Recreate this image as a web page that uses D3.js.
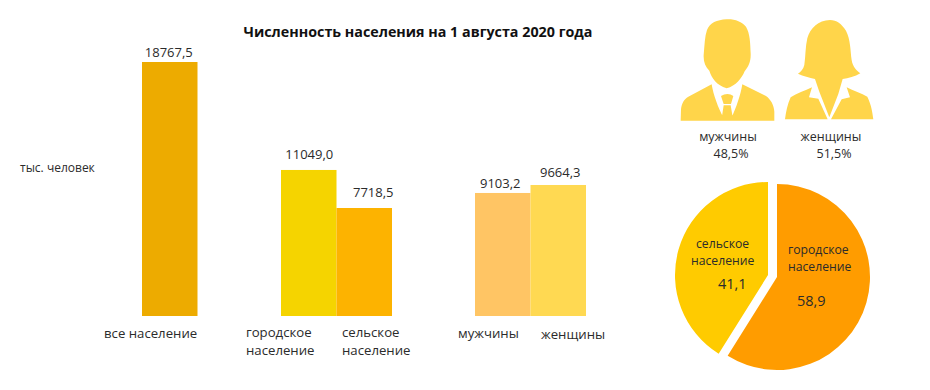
<!DOCTYPE html>
<html>
<head>
<meta charset="utf-8">
<script src="https://cdn.jsdelivr.net/npm/d3@7"></script>
<style>
  html, body { margin: 0; padding: 0; background: #fff; }
  text { font-family: "Open Sans", "Noto Sans", sans-serif; fill: #2b2b2b; }
</style>
</head>
<body>
<div id="content"></div>
<script>
const svg_width = 930;
const svg_height = 390;

// bar chart data
const barCategories = ["все население", "городское население", "сельское население", "мужчины", "женщины"];
// the numbers printed above the bars
const barLabels = [18767.5, 11049.0, 7718.5, 9103.2, 9664.3];
// the heights as the picture draws them: the urban and rural bars are not
// quite to scale with their printed numbers, so these are read off the bars
const barHeights = [18767.5, 10790, 7980, 9090, 9680];
const barColors = ["#edab00", "#f5d400", "#fdb300", "#ffc564", "#ffd952"];

// pie data
const pieNames = ["городское население", "сельское население"];
const pieValues = [58.9, 41.1];
const pieColors = ["#ff9c00", "#ffcb00"];

// gender shares
const genderNames = ["мужчины", "женщины"];
const genderShares = ["48,5%", "51,5%"];

const fmt = v => v.toFixed(1).replace(".", ",");

var svg = d3.select("#content")
    .append("svg")
    .attr("width", svg_width)
    .attr("height", svg_height)
    .style("display", "block");

// title
svg.append("text")
    .attr("x", 418)
    .attr("y", 37)
    .attr("text-anchor", "middle")
    .style("font-size", "14.3px")
    .style("font-weight", "bold")
    .style("fill", "#111")
    .text("Численность населения на 1 августа 2020 года");

// y unit label
svg.append("text")
    .attr("x", 20)
    .attr("y", 172)
    .style("font-size", "12px")
    .text("тыс. человек");

// bars, the groups are not evenly spaced so the range is listed by hand
var xScale = d3.scaleOrdinal()
    .domain(barCategories)
    .range([142, 281, 336.5, 475, 530.5]);
const barWidth = 55.5;

var yScale = d3.scaleLinear()
    .domain([0, 18767.5])
    .range([316, 62]);

svg.selectAll(".bar")
    .data(barCategories)
    .join("rect")
    .attr("class", "bar")
    .attr("x", d => xScale(d))
    .attr("width", barWidth)
    .attr("y", (d, i) => yScale(barHeights[i]))
    .attr("height", (d, i) => yScale(0) - yScale(barHeights[i]))
    .attr("fill", (d, i) => barColors[i]);

// value labels are nudged by hand, each sits a bit differently over its bar
const valueDx = [-1, 0.5, 9, -2.5, 2];
const valueDy = [5, 11, 11, 5, 8];

svg.selectAll(".bar-value")
    .data(barCategories)
    .join("text")
    .attr("class", "bar-value")
    .attr("x", (d, i) => xScale(d) + barWidth / 2 + valueDx[i])
    .attr("y", (d, i) => yScale(barHeights[i]) - valueDy[i])
    .attr("text-anchor", "middle")
    .style("font-size", "13px")
    .text((d, i) => fmt(barLabels[i]));

// category labels under the bars
const labelLines = [["все население"], ["городское", "население"], ["сельское", "население"], ["мужчины"], ["женщины"]];
const labelX = [104, 246, 342, 458, 541];
const labelY = [338, 337, 337, 338, 339];

labelLines.forEach(function(lines, i) {
    var t = svg.append("text")
        .attr("class", "cat-label")
        .attr("x", labelX[i])
        .attr("y", labelY[i])
        .style("font-size", "13.2px");
    lines.forEach(function(line, k) {
        t.append("tspan")
            .attr("x", labelX[i])
            .attr("dy", k ? 17.5 : 0)
            .text(line);
    });
});

// people icons, outlines traced at 3x and scaled down
var icons = svg.append("g")
    .attr("transform", "translate(660, 10) scale(0.3333)")
    .attr("fill", "#ffd54a");

const manPath = "M200,28 C170,30 150,38 141,60 C134,80 134,105 131,135 C130,155 136,170 148,182 C155,205 170,225 200,235 C228,228 245,205 254,184 C266,170 273,155 272,130 C271,100 270,70 258,50 C245,35 225,27 200,28 Z " +
    "M62,332 L63,298 C65,280 72,268 85,260 L155,223 C160,255 175,295 190,322 L190,332 Z " +
    "M247,223 L318,258 C332,268 342,285 343,305 L343,332 L215,332 L215,322 C228,295 242,255 247,223 Z " +
    "M183,258 C195,250 210,250 220,258 L213,282 L191,282 Z M191,286 L212,286 L220,332 L184,332 Z";
const womanPath = "M510,30 C475,30 450,55 442,85 C436,110 437,140 433,165 C430,178 422,186 414,191 C430,198 448,203 465,207 L478,245 L508,322 L535,252 L548,207 C565,205 585,200 601,190 C590,182 578,170 575,150 C571,120 572,90 558,62 C545,42 530,30 510,30 Z " +
    "M375,328 C378,305 382,285 392,262 C410,250 435,243 456,232 L447,262 L475,266 L503,328 Z " +
    "M640,328 C637,305 634,285 622,260 C605,250 580,243 560,232 L570,262 L545,268 L513,328 Z";
icons.append("path").attr("d", manPath);
icons.append("path").attr("d", womanPath);

const genderX = [728, 831];
svg.selectAll(".gender-name")
    .data(genderNames)
    .join("text")
    .attr("class", "gender-name")
    .attr("x", (d, i) => genderX[i])
    .attr("y", 141)
    .attr("text-anchor", "middle")
    .style("font-size", "12.5px")
    .text(d => d);

svg.selectAll(".gender-share")
    .data(genderShares)
    .join("text")
    .attr("class", "gender-share")
    .attr("x", (d, i) => genderX[i] + 3)
    .attr("y", 158)
    .attr("text-anchor", "middle")
    .style("font-size", "12.5px")
    .text(d => d);

// pie, the rural slice is pulled out a little
var pie = d3.pie().sort(null).value(d => d);
var arc = d3.arc().innerRadius(0).outerRadius(93);
const sliceOffset = [[0, 0], [-9, -2]];

var pieGroup = svg.append("g")
    .attr("transform", "translate(777, 277)");

pieGroup.selectAll("path")
    .data(pie(pieValues))
    .join("path")
    .attr("transform", (d, i) => "translate(" + sliceOffset[i] + ")")
    .attr("d", arc)
    .attr("fill", (d, i) => pieColors[i]);

const pieLabelX = [788, 691];
const pieLabelY = [254, 248];
const pieValueX = [797, 718];
const pieValueY = [306, 289];

pieNames.forEach(function(name, i) {
    var words = name.split(" ");
    var t = svg.append("text")
        .attr("x", pieLabelX[i])
        .attr("y", pieLabelY[i])
        .style("font-size", "12.2px");
    words.forEach(function(w, k) {
        t.append("tspan")
            .attr("x", pieLabelX[i] + (i == 1 && k == 0 ? 5 : 0))
            .attr("dy", k ? 17 : 0)
            .text(w);
    });
    svg.append("text")
        .attr("x", pieValueX[i])
        .attr("y", pieValueY[i])
        .style("font-size", "14.5px")
        .text(fmt(pieValues[i]));
});
</script>
</body>
</html>
